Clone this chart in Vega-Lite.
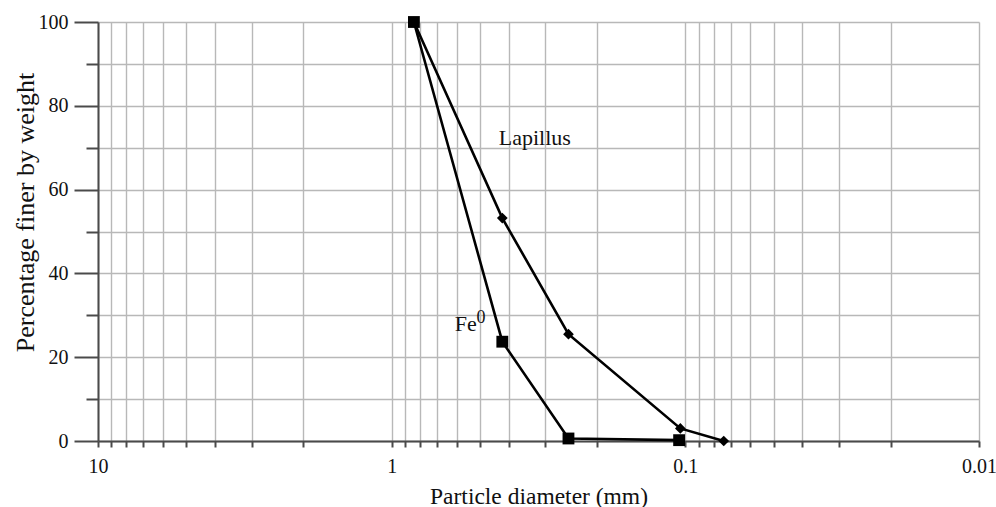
{
  "$schema": "https://vega.github.io/schema/vega-lite/v6.json",
  "width": 881,
  "height": 419,
  "autosize": {"type": "none"},
  "padding": {"left": 98, "top": 22, "right": 17, "bottom": 66},
  "background": "white",
  "config": {
    "view": {"stroke": null},
    "font": "Liberation Serif",
    "text": {"font": "Liberation Serif"},
    "axis": {
      "labelFont": "Liberation Serif",
      "titleFont": "Liberation Serif",
      "labelColor": "#111111",
      "titleColor": "#111111",
      "titleFontWeight": "normal",
      "gridColor": "#b8b8b8",
      "gridWidth": 1.4,
      "gridOpacity": 1,
      "domainColor": "#4a4a4a",
      "domainWidth": 2,
      "tickColor": "#4a4a4a",
      "tickWidth": 2
    }
  },
  "datasets": {
    "curves": [
      {"series": "Fe0", "d": 0.84, "p": 100},
      {"series": "Fe0", "d": 0.42, "p": 23.7},
      {"series": "Fe0", "d": 0.25, "p": 0.6},
      {"series": "Fe0", "d": 0.105, "p": 0.2},
      {"series": "Lapillus", "d": 0.84, "p": 100},
      {"series": "Lapillus", "d": 0.42, "p": 53.2},
      {"series": "Lapillus", "d": 0.25, "p": 25.5},
      {"series": "Lapillus", "d": 0.104, "p": 3.0},
      {"series": "Lapillus", "d": 0.074, "p": 0}
    ],
    "names": [
      {"text": "Lapillus", "d": 0.432, "p": 70.6},
      {"text": "Fe", "d": 0.61, "p": 26.3}
    ],
    "superscripts": [
      {"text": "0", "d": 0.5137, "p": 28.1}
    ]
  },
  "layer": [
    {
      "data": {"name": "curves"},
      "mark": {"type": "line", "color": "black", "strokeWidth": 2.6},
      "encoding": {
        "x": {
          "field": "d",
          "type": "quantitative",
          "scale": {"type": "log", "domain": [0.01, 10], "reverse": true},
          "axis": {
            "title": "Particle diameter (mm)",
            "values": [10, 9, 8, 7, 6, 5, 4, 3, 2, 1, 0.9, 0.8, 0.7, 0.6, 0.5, 0.4, 0.3, 0.2, 0.1, 0.09, 0.08, 0.07, 0.06, 0.05, 0.04, 0.03, 0.02, 0.01],
            "format": "~g",
            "labelExpr": "indexof([10, 1, 0.1, 0.01], datum.value) >= 0 ? datum.label : ''",
            "labelFontSize": 20,
            "labelBaseline": "middle",
            "labelPadding": 19,
            "labelFlush": false,
            "labelOverlap": false,
            "tickSize": 6,
            "grid": true,
            "titleFontSize": 23.5,
            "titleBaseline": "middle",
            "titleY": 55
          }
        },
        "y": {
          "field": "p",
          "type": "quantitative",
          "scale": {"domain": [0, 100], "nice": false, "zero": true},
          "axis": {
            "title": "Percentage finer by weight",
            "values": [0, 10, 20, 30, 40, 50, 60, 70, 80, 90, 100],
            "labelExpr": "datum.value % 20 === 0 ? datum.label : ''",
            "labelFontSize": 20,
            "labelPadding": 6,
            "tickSize": {"condition": {"test": "datum.value % 20 === 0", "value": 24}, "value": 12},
            "grid": true,
            "titleFontSize": 26,
            "titleX": -73,
            "titleY": 190,
            "titleBaseline": "middle"
          }
        },
        "detail": {"field": "series"}
      }
    },
    {
      "data": {"name": "curves"},
      "mark": {"type": "point", "filled": true, "color": "black", "opacity": 1},
      "encoding": {
        "x": {"field": "d", "type": "quantitative"},
        "y": {"field": "p", "type": "quantitative"},
        "shape": {
          "field": "series",
          "type": "nominal",
          "scale": {"domain": ["Fe0", "Lapillus"], "range": ["square", "diamond"]},
          "legend": null
        },
        "size": {
          "field": "series",
          "type": "nominal",
          "scale": {"domain": ["Fe0", "Lapillus"], "range": [140, 115]},
          "legend": null
        }
      }
    },
    {
      "data": {"name": "names"},
      "mark": {"type": "text", "align": "left", "baseline": "alphabetic", "font": "Liberation Serif", "fontSize": 22, "color": "#111111"},
      "encoding": {
        "x": {"field": "d", "type": "quantitative"},
        "y": {"field": "p", "type": "quantitative"},
        "text": {"field": "text"}
      }
    },
    {
      "data": {"name": "superscripts"},
      "mark": {"type": "text", "align": "left", "baseline": "alphabetic", "font": "Liberation Serif", "fontSize": 18, "color": "#111111"},
      "encoding": {
        "x": {"field": "d", "type": "quantitative"},
        "y": {"field": "p", "type": "quantitative"},
        "text": {"field": "text"}
      }
    }
  ]
}
